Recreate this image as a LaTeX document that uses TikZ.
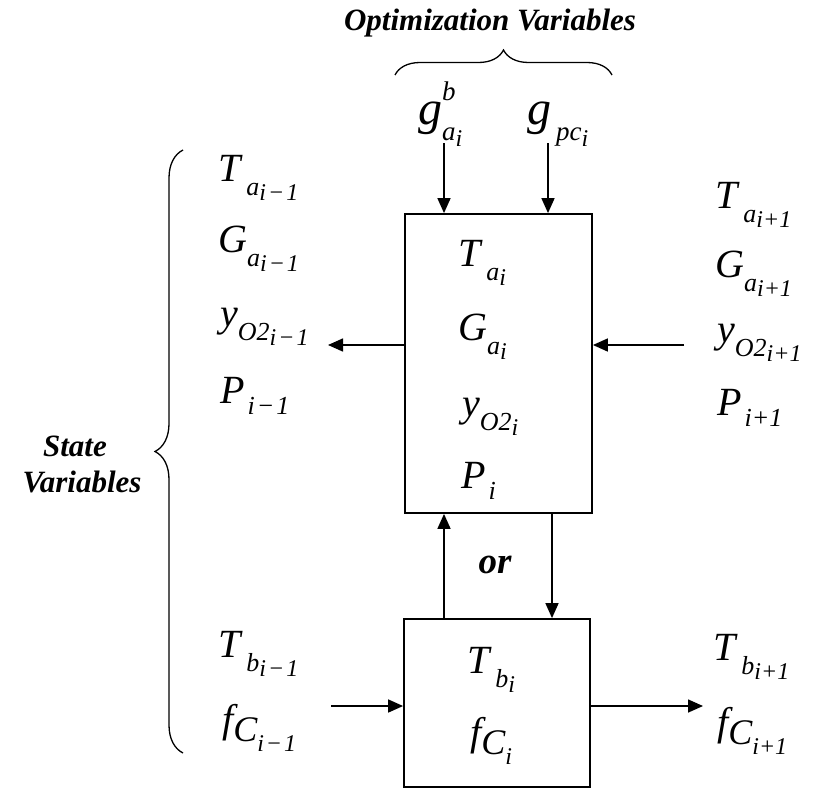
\documentclass[tikz,border=0pt]{standalone}
\usepackage{fontspec}
\setmainfont{Liberation Serif}
\usetikzlibrary{arrows.meta,decorations.pathreplacing}
\newcommand\Mn[1]{{\fontsize{40}{40}\selectfont\itshape #1}}
\newcommand\Sa[1]{\raisebox{-14pt}{\fontsize{26}{26}\selectfont\itshape #1}}
\newcommand\Sp[1]{\raisebox{-11pt}{\fontsize{26}{26}\selectfont\itshape #1}}
\newcommand\Sb[1]{\raisebox{-19pt}{\fontsize{24}{24}\selectfont\itshape #1}}
\newcommand\SC[1]{\raisebox{-9pt}{\fontsize{36}{36}\selectfont\itshape #1}}
\newcommand\mns{\kern2pt−\kern2pt}
\begin{document}
\begin{tikzpicture}[x=1pt,y=-1pt,
  lbl/.style={anchor=base west, inner sep=0pt},
  ttl/.style={anchor=base, inner sep=0pt, font=\fontsize{31}{31}\selectfont\bfseries\itshape},
  box/.style={draw, line width=1.8pt, inner sep=0pt},
  arr/.style={line width=1.6pt, -{Triangle[length=15pt,width=13pt]}},
  brc/.style={line width=1.3pt, decorate}]
\useasboundingbox (0,0) rectangle (821,790);
% titles
\node[ttl] (opt) at (490,30) {Optimization Variables};
\node[ttl] (st) at (75,456) {State};
\node[ttl] (va) at (82,492) {Variables};
\node[ttl, font=\fontsize{37}{37}\selectfont\bfseries\itshape] (or) at (495,573) {or};
% braces
\coordinate (b1) at (395,75); \coordinate (b2) at (612,75);
\draw[brc, decoration={brace, amplitude=25pt}] (b1) -- (b2);
\coordinate (c1) at (183,753); \coordinate (c2) at (183,150);
\draw[brc, decoration={brace, amplitude=28pt}] (c1) -- (c2);
% boxes
\node[box, minimum width=187pt, minimum height=299pt] (A) at (498.5,363.5) {};
\node[box, minimum width=186pt, minimum height=168pt] (B) at (497,703) {};
% optimization variables
\node[lbl] (gab) at (418,124) {{\fontsize{48}{48}\selectfont\itshape g}\makebox[0pt][l]{\raisebox{24pt}{\fontsize{27}{27}\selectfont\itshape b}}\raisebox{-16pt}{\fontsize{27}{27}\selectfont\itshape a}\raisebox{-22pt}{\fontsize{24}{24}\selectfont\itshape i}};
\node[lbl] (gpc) at (527,124) {{\fontsize{48}{48}\selectfont\itshape g}\hspace{5pt}\raisebox{-16pt}{\fontsize{27}{27}\selectfont\itshape pc}\raisebox{-22pt}{\fontsize{24}{24}\selectfont\itshape i}};
% left column
\node[lbl] (tl) at (218,181) {\Mn{T}\hspace{6pt}\Sa{a}\Sb{i\mns1}};
\node[lbl] (gl) at (218,252) {\Mn{G}\Sa{a}\Sb{i\mns1}};
\node[lbl] (yl) at (220,326) {\Mn{y}\Sa{O2}\Sb{i\mns1}};
\node[lbl] (pl) at (220,403) {\Mn{P}\hspace{3pt}\Sp{i\mns1}};
% right column
\node[lbl] (tr) at (715,208) {\Mn{T}\hspace{6pt}\Sa{a}\Sb{i+1}};
\node[lbl] (gr) at (715,277) {\Mn{G}\Sa{a}\Sb{i+1}};
\node[lbl] (yr) at (717,342) {\Mn{y}\Sa{O2}\Sb{i+1}};
\node[lbl] (pr) at (717,415) {\Mn{P}\hspace{3pt}\Sp{i+1}};
% inside A
\node[lbl] (ta) at (458,266) {\Mn{T}\hspace{6pt}\Sa{a}\Sb{i}};
\node[lbl] (ga) at (458,340) {\Mn{G}\Sa{a}\Sb{i}};
\node[lbl] (ya) at (462,416) {\Mn{y}\Sa{O2}\Sb{i}};
\node[lbl] (pa) at (461,488) {\Mn{P}\hspace{3pt}\Sp{i}};
% bottom
\node[lbl] (tbl) at (218,657) {\Mn{T}\hspace{6pt}\Sa{b}\Sb{i\mns1}};
\node[lbl] (fl) at (222,732) {\Mn{f}\SC{C}\Sb{i\mns1}};
\node[lbl] (tbb) at (467,673) {\Mn{T}\hspace{6pt}\Sa{b}\Sb{i}};
\node[lbl] (fb) at (470,745) {\Mn{f}\SC{C}\Sb{i}};
\node[lbl] (tbr) at (713,660) {\Mn{T}\hspace{6pt}\Sa{b}\Sb{i+1}};
\node[lbl] (fr) at (717,735) {\Mn{f}\SC{C}\Sb{i+1}};
% arrows
\coordinate (pga) at (444,143); \coordinate (pgp) at (548,143);
\draw[arr] (pga) -- (pga |- A.north);
\draw[arr] (pgp) -- (pgp |- A.north);
\coordinate (lo) at (328,345); \coordinate (ri) at (684,345);
\draw[arr] (A.west |- lo) -- (lo);
\draw[arr] (ri) -- (ri -| A.east);
\coordinate (up) at (444,0); \coordinate (dn) at (552,0);
\draw[arr] (B.north -| up) -- (A.south -| up);
\draw[arr] (A.south -| dn) -- (B.north -| dn);
\coordinate (bl) at (331,706); \coordinate (br) at (703,706);
\draw[arr] (bl) -- (bl -| B.west);
\draw[arr] (B.east |- br) -- (br);
\end{tikzpicture}
\end{document}
